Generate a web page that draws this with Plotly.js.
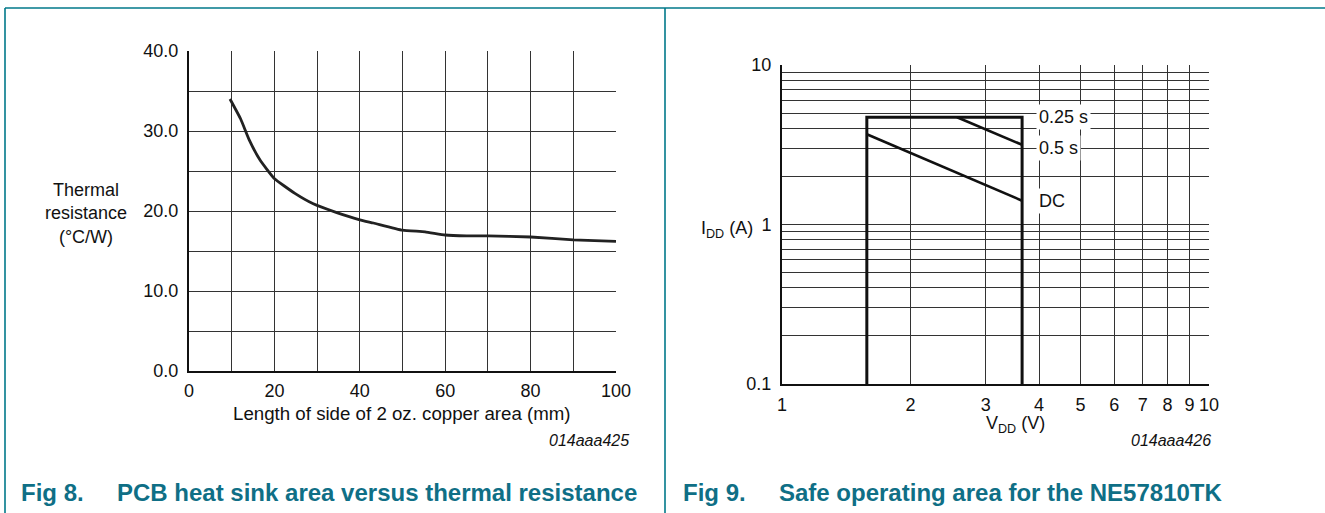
<!DOCTYPE html>
<html>
<head>
<meta charset="utf-8">
<script src="https://cdn.plot.ly/plotly-3.0.1.min.js"></script>
<style>html,body{margin:0;padding:0;background:#fff;}#chart{width:1325px;height:513px;}</style>
</head>
<body>
<div id="chart"></div>
<script>
// Fig 8 data: thermal resistance vs copper side length
const copperSide = [9.6, 12.1, 14.1, 16.6, 19.9, 24.8, 29.1, 34.6, 40, 43.2, 50, 55.3, 60, 65, 70, 80, 90, 100];
const thermalRes = [34.0, 31.5, 28.9, 26.4, 24.1, 22.2, 20.9, 19.8, 18.9, 18.5, 17.6, 17.4, 17.0, 16.9, 16.9, 16.75, 16.4, 16.2];
const fig8XTicks = [0, 20, 40, 60, 80, 100];
const fig8YTicks = [0, 10, 20, 30, 40];
const fig8XGrid = [10, 20, 30, 40, 50, 60, 70, 80, 90];
const fig8YGrid = [5, 10, 15, 20, 25, 30, 35];

// Fig 9 data: safe operating area
const soaV = [1.58, 1.58, 3.65, 3.65];
const soaI = [0.1, 4.7, 4.7, 0.1];
const pulseV = [2.57, 3.65];
const pulseI = [4.7, 3.16];
const dcV = [1.58, 3.65];
const dcI = [3.68, 1.41];
const curveLabels = ['0.25 s', '0.5 s', 'DC'];
const curveLabelV = [3.93, 3.93, 3.93];
const curveLabelI = [4.72, 3.02, 1.41];
const fig9XTicks = [1, 2, 3, 4, 5, 6, 7, 8, 9, 10];
const fig9YTicks = [0.1, 1, 10];
const fig9XGrid = [2, 3, 4, 5, 6, 7, 8, 9];
const fig9YGrid = [0.2, 0.3, 0.4, 0.5, 0.6, 0.7, 0.8, 0.9, 1, 2, 3, 4, 5, 6, 7, 8, 9];

const W = 1325, H = 513;
const px = x => x / W;
const py = y => 1 - y / H;
const FONT = '"Liberation Sans", Arial, Helvetica, sans-serif';
const teal = '#00788a';
const capColor = '#0f6f86';
const gridC = '#333';

const traces = [
  {x: copperSide, y: thermalRes, xaxis: 'x', yaxis: 'y', mode: 'lines', line: {color: '#222', width: 2.8, shape: 'spline', smoothing: 0.4}, hoverinfo: 'skip', showlegend: false},
  {x: [null], y: [null], xaxis: 'x3', yaxis: 'y3', mode: 'lines', showlegend: false, hoverinfo: 'skip'},
  {x: soaV, y: soaI, xaxis: 'x2', yaxis: 'y2', mode: 'lines', line: {color: '#111', width: 3}, hoverinfo: 'skip', showlegend: false},
  {x: pulseV, y: pulseI, xaxis: 'x2', yaxis: 'y2', mode: 'lines', line: {color: '#111', width: 2.6}, hoverinfo: 'skip', showlegend: false},
  {x: dcV, y: dcI, xaxis: 'x2', yaxis: 'y2', mode: 'lines', line: {color: '#111', width: 2.6}, hoverinfo: 'skip', showlegend: false},
  {x: [null], y: [null], xaxis: 'x4', yaxis: 'y4', mode: 'lines', showlegend: false, hoverinfo: 'skip'}
];

const tickFont = {family: FONT, size: 18, color: '#111'};

const annotations = [
  {xref: 'paper', yref: 'paper', x: px(86), y: py(213), text: 'Thermal<br>resistance<br>(°C/W)', showarrow: false, font: {family: FONT, size: 18, color: '#111'}, align: 'center', xanchor: 'center', yanchor: 'middle'},
  {xref: 'paper', yref: 'paper', x: px(402), y: py(413), text: 'Length of side of 2 oz. copper area (mm)', showarrow: false, font: {family: FONT, size: 18.7, color: '#111'}, xanchor: 'center', yanchor: 'middle'},
  {xref: 'paper', yref: 'paper', x: px(631), y: py(440), text: '<i>014aaa425</i>', showarrow: false, font: {family: FONT, size: 16, color: '#111'}, xanchor: 'right', yanchor: 'middle'},
  {xref: 'paper', yref: 'paper', x: px(755), y: py(229), text: 'I<sub>DD</sub> (A)', showarrow: false, font: {family: FONT, size: 18, color: '#111'}, xanchor: 'right', yanchor: 'middle'},
  {xref: 'paper', yref: 'paper', x: px(1015), y: py(424), text: 'V<sub>DD</sub> (V)', showarrow: false, font: {family: FONT, size: 18, color: '#111'}, xanchor: 'center', yanchor: 'middle'},
  {xref: 'paper', yref: 'paper', x: px(1213), y: py(440), text: '<i>014aaa426</i>', showarrow: false, font: {family: FONT, size: 16, color: '#111'}, xanchor: 'right', yanchor: 'middle'},
  {xref: 'paper', yref: 'paper', x: px(19), y: py(492), text: '<b>Fig 8.</b>', showarrow: false, font: {family: FONT, size: 24, color: capColor}, xanchor: 'left', yanchor: 'middle'},
  {xref: 'paper', yref: 'paper', x: px(115), y: py(492), text: '<b>PCB heat sink area versus thermal resistance</b>', showarrow: false, font: {family: FONT, size: 24, color: capColor}, xanchor: 'left', yanchor: 'middle'},
  {xref: 'paper', yref: 'paper', x: px(681), y: py(492), text: '<b>Fig 9.</b>', showarrow: false, font: {family: FONT, size: 24, color: capColor}, xanchor: 'left', yanchor: 'middle'},
  {xref: 'paper', yref: 'paper', x: px(777), y: py(492), text: '<b>Safe operating area for the NE57810TK</b>', showarrow: false, font: {family: FONT, size: 24, color: capColor}, xanchor: 'left', yanchor: 'middle'}
];
curveLabels.forEach((t, i) => {
  annotations.push({xref: 'x2', yref: 'y2', x: Math.log10(curveLabelV[i]), y: Math.log10(curveLabelI[i]), text: t, showarrow: false,
    font: {family: FONT, size: 18, color: '#111'}, xanchor: 'left', yanchor: 'middle', bgcolor: '#fff', borderpad: 2});
});

const shapes = [
  {type: 'line', xref: 'paper', yref: 'paper', x0: px(5), x1: 1, y0: py(8), y1: py(8), line: {color: teal, width: 1.6}},
  {type: 'line', xref: 'paper', yref: 'paper', x0: px(5), x1: px(5), y0: py(8), y1: 0, line: {color: teal, width: 1.6}},
  {type: 'line', xref: 'paper', yref: 'paper', x0: px(665), x1: px(665), y0: py(8), y1: 0, line: {color: teal, width: 1.6}}
];

const dL = [px(189), px(616)], dLy = [py(371), py(51)];
const dR = [px(782), px(1209)], dRy = [py(384), py(65)];

const layout = {
  width: W, height: H,
  margin: {l: 0, r: 0, t: 0, b: 0, pad: 0},
  paper_bgcolor: '#fff', plot_bgcolor: 'rgba(0,0,0,0)',
  showlegend: false,
  font: {family: FONT},
  xaxis: {domain: dL, range: [0, 100], anchor: 'y', tickmode: 'array', tickvals: fig8XTicks, showgrid: false, zeroline: false,
    showline: true, linecolor: '#111', linewidth: 2, ticks: '', tickfont: tickFont, ticklabelstandoff: 2, fixedrange: true},
  yaxis: {domain: dLy, range: [0, 40], anchor: 'x', tickmode: 'array', tickvals: fig8YTicks, tickformat: '.1f', showgrid: false, zeroline: false,
    showline: true, linecolor: '#111', linewidth: 2, ticks: '', tickfont: tickFont, ticklabelstandoff: 5, fixedrange: true},
  xaxis3: {overlaying: 'x', anchor: 'y3', range: [0, 100], tickmode: 'array', tickvals: fig8XGrid, showgrid: true, gridcolor: gridC, gridwidth: 1,
    showticklabels: false, showline: false, zeroline: false, ticks: ''},
  yaxis3: {overlaying: 'y', anchor: 'x3', range: [0, 40], tickmode: 'array', tickvals: fig8YGrid, showgrid: true, gridcolor: gridC, gridwidth: 1,
    showticklabels: false, showline: false, zeroline: false, ticks: ''},
  xaxis2: {domain: dR, type: 'log', range: [0, 1], anchor: 'y2', tickmode: 'array', tickvals: fig9XTicks, ticktext: fig9XTicks.map(String), showgrid: false, zeroline: false,
    showline: true, linecolor: '#111', linewidth: 2, ticks: '', tickfont: tickFont, ticklabelstandoff: 3, fixedrange: true},
  yaxis2: {domain: dRy, type: 'log', range: [-1, 1], anchor: 'x2', tickmode: 'array', tickvals: fig9YTicks, ticktext: ['0.1', '1', '10'], showgrid: false, zeroline: false,
    showline: true, linecolor: '#111', linewidth: 2, ticks: '', tickfont: tickFont, ticklabelstandoff: 5, fixedrange: true},
  xaxis4: {overlaying: 'x2', anchor: 'y4', type: 'log', range: [0, 1], tickmode: 'array', tickvals: fig9XGrid, showgrid: true, gridcolor: gridC, gridwidth: 1,
    showticklabels: false, showline: false, zeroline: false, ticks: ''},
  yaxis4: {overlaying: 'y2', anchor: 'x4', type: 'log', range: [-1, 1], tickmode: 'array', tickvals: fig9YGrid, showgrid: true, gridcolor: gridC, gridwidth: 1,
    showticklabels: false, showline: false, zeroline: false, ticks: ''},
  annotations: annotations,
  shapes: shapes
};

Plotly.newPlot('chart', traces, layout, {displayModeBar: false, staticPlot: true});
</script>
</body>
</html>
